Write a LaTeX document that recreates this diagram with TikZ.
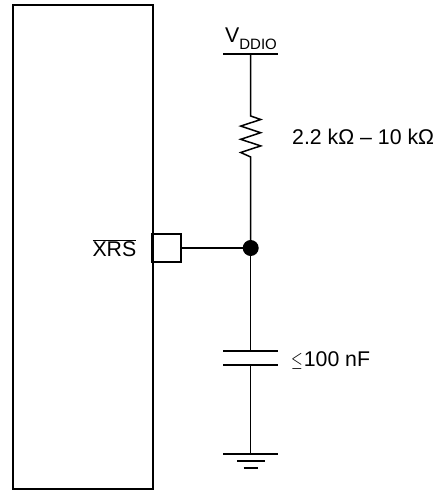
\documentclass[tikz,border=0pt]{standalone}
\usepackage{fontspec}
\setmainfont{Liberation Sans}
\usetikzlibrary{positioning}
\begin{document}
\begin{tikzpicture}
            [x=1pt, y=-1pt, font=\fontsize{21.3}{24}\selectfont,
            wire/.style={draw=black, line width=1.5pt},
            plate/.style={draw=black, line width=1.5pt},
            box/.style={draw=black, line width=2.1pt, inner sep=0pt},
            label/.style={inner sep=0pt, anchor=base west}]
            \useasboundingbox (0,0) rectangle (436,491);
            % device and its pin
            \node [box, minimum width=139.4pt, minimum height=484.4pt] (chip) at (83,247) {};
            \node [box, minimum width=28.5pt, minimum height=28pt] (pin) at (166.7,248) {};
            \node [inner sep=0pt, anchor=base east] (xrs) at (136.5,256.7) {$\overline{\mbox{XRS}}$};
            \node [circle, fill=black, inner sep=0pt, minimum size=16pt] (dot) at (250.7,248) {};
            % rail
            \coordinate (railL) at (223,54);
            \coordinate (railR) at (278.3,54);
            \coordinate (rail) at (250.7,54);
            \node [label] (vddio) at (225,42.7) {V\raisebox{-6.5pt}{\fontsize{15}{17}\selectfont DDIO}};
            % resistor
            \coordinate (resTop) at (250.7,116);
            \coordinate (resBot) at (250.7,157);
            \node [label] (resval) at (292,144) {2.2 kΩ – 10 kΩ};
            % capacitor
            \coordinate (capTop) at (250.7,351);
            \coordinate (capBot) at (250.7,365);
            \coordinate (capTopL) at (223,351);
            \coordinate (capTopR) at (278.3,351);
            \coordinate (capBotL) at (223,365);
            \coordinate (capBotR) at (278.3,365);
            \node [label] (capval) at (291,366) {\scalebox{0.72}[1]{$\leq$}\kern1pt 100 nF};
            % ground
            \coordinate (gnd) at (250.7,454);
            \coordinate (gndAL) at (223,454);
            \coordinate (gndAR) at (278.3,454);
            \coordinate (gndBL) at (237,461);
            \coordinate (gndBR) at (264.5,461);
            \coordinate (gndCL) at (243.5,468);
            \coordinate (gndCR) at (258,468);
            \draw [plate] (railL) -- (railR);
            \draw [wire] (rail) -- (resTop)
                -- ++(10,3.5) -- ++(-20,6.6) -- ++(20,6.6) -- ++(-20,6.6) -- ++(20,6.6) -- ++(-20,6.6) -- (resBot) -- (dot);
            \draw [wire] (pin) -- (dot);
            \draw [wire] (dot) -- (capTop);
            \draw [plate] (capTopL) -- (capTopR);
            \draw [plate] (capBotL) -- (capBotR);
            \draw [wire] (capBot) -- (gnd);
            \draw [plate] (gndAL) -- (gndAR);
            \draw [plate] (gndBL) -- (gndBR);
            \draw [plate] (gndCL) -- (gndCR);
            \end{tikzpicture}
\end{document}
